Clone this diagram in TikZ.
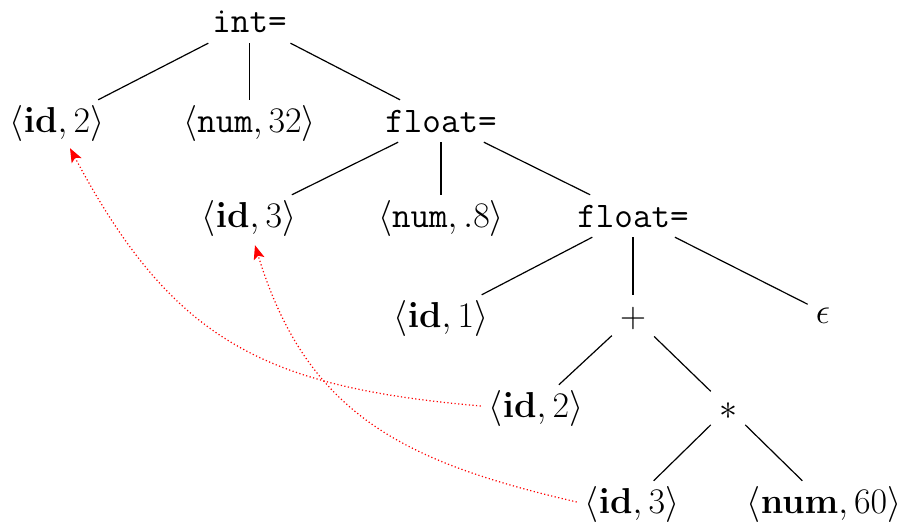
\RequirePackage{fix-cm}
\documentclass[tikz,border=0pt]{standalone}
\usetikzlibrary{arrows.meta}
\tikzset{
  tn/.style={font=\fontsize{36}{40}\selectfont, text height=31pt, text depth=9pt,
    inner xsep=8pt, inner ysep=1pt, anchor=center},
  edge/.style={line width=1.2pt, black},
  refarrow/.style={red, line width=1.2pt, dash pattern=on 1.2pt off 2.4pt,
    -{Stealth[length=14pt,width=11pt,inset=3pt]}}
}
\begin{document}
\begin{tikzpicture}[x=1pt,y=1pt]
\useasboundingbox (0,0) rectangle (907,-524);
\node[tn] (r)  at (249.5,-22)  {\texttt{int=}};
\node[tn] (a1) at (57,-121)  {$\langle\mathbf{id},2\rangle$};
\node[tn] (a2) at (249.5,-121) {$\langle\mathtt{num},32\rangle$};
\node[tn] (a3) at (441,-121) {\texttt{float=}};
\node[tn] (b1) at (249,-216) {$\langle\mathbf{id},3\rangle$};
\node[tn] (b2) at (441,-216) {$\langle\mathtt{num},\mathtt{.}8\rangle$};
\node[tn] (b3) at (633,-216) {\texttt{float=}};
\node[tn] (c1) at (441,-316) {$\langle\mathbf{id},1\rangle$};
\node[tn] (c2) at (633,-316) {$+$};
\node[tn] (c3) at (823,-312) {$\epsilon$};
\node[tn] (d1) at (536,-406) {$\langle\mathbf{id},2\rangle$};
\node[tn] (d2) at (728,-408) {$*$};
\node[tn] (e1) at (632,-502) {$\langle\mathbf{id},3\rangle$};
\node[tn] (e2) at (824,-502) {$\langle\mathbf{num},60\rangle$};

\draw[edge] (r) -- (a1);
\draw[edge] (r) -- (a2);
\draw[edge] (r) -- (a3);
\draw[edge] (a3) -- (b1);
\draw[edge] (a3) -- (b2);
\draw[edge] (a3) -- (b3);
\draw[edge] (b3) -- (c1);
\draw[edge] (b3) -- (c2);
\draw[edge] (b3) -- (c3);
\draw[edge] (c2) -- (d1);
\draw[edge] (c2) -- (d2);
\draw[edge] (d2) -- (e1);
\draw[edge] (d2) -- (e2);

\draw[refarrow] (d1.west) to[out=175,in=-62,looseness=1.15] ([xshift=13pt,yshift=-6pt]a1.south);
\draw[refarrow] (e1.west) to[out=167,in=-73,looseness=1.1] ([xshift=6pt,yshift=-8pt]b1.south);
\end{tikzpicture}
\end{document}
